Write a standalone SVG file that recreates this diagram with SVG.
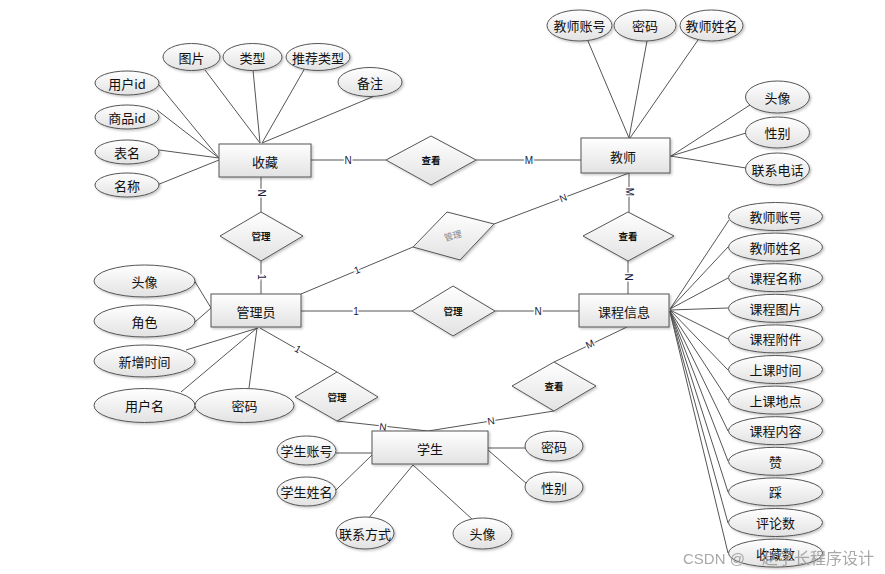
<svg xmlns="http://www.w3.org/2000/svg" width="885" height="574" viewBox="0 0 885 574">
<defs>
<linearGradient id="gr" x1="0" y1="0" x2="0" y2="1"><stop offset="0" stop-color="#ffffff"/><stop offset="1" stop-color="#e2e2e2"/></linearGradient>
<filter id="sh" x="-10%" y="-10%" width="130%" height="140%"><feDropShadow dx="1.5" dy="1.5" stdDeviation="1" flood-color="#000" flood-opacity="0.22"/></filter>
</defs>
<style>
.e{fill:url(#gr);stroke:#555;stroke-width:1;filter:url(#sh)}
.a{fill:url(#gr);stroke:#555;stroke-width:1;filter:url(#sh)}
.d{fill:url(#gr);stroke:#555;stroke-width:1;filter:url(#sh)}
.t{font-family:"Noto Sans CJK SC","Liberation Sans",sans-serif;font-size:13px;fill:#111;text-anchor:middle;dominant-baseline:central}
.dt{font-family:"Noto Sans CJK SC","Liberation Sans",sans-serif;font-size:9.5px;font-weight:bold;fill:#111;text-anchor:middle;dominant-baseline:central}
.c line,.c polyline{stroke:#555;stroke-width:1;fill:none}
.l{font-family:"Liberation Sans",sans-serif;font-size:10px;fill:#1a1a40;text-anchor:middle;dominant-baseline:central;stroke:#fff;stroke-width:3;paint-order:stroke}
.wm{font-family:"Liberation Sans","Noto Sans CJK SC",sans-serif;font-size:15px;fill:#999;opacity:0.85}
</style>
<rect width="885" height="574" fill="#fff"/>
<g id="connectors" class="c">
<!-- 收藏 attributes -->
<line x1="159" y1="85" x2="219" y2="158"/>
<line x1="157" y1="110" x2="219" y2="158"/>
<line x1="159" y1="150" x2="219" y2="158"/>
<line x1="157" y1="185" x2="219" y2="160"/>
<line x1="205" y1="70" x2="260" y2="143"/>
<line x1="253" y1="70" x2="260" y2="143"/>
<line x1="305" y1="68" x2="262" y2="143"/>
<line x1="377" y1="95" x2="262" y2="143"/>
<!-- 教师 attributes -->
<line x1="588" y1="41" x2="629" y2="138"/>
<line x1="647" y1="41" x2="629" y2="138"/>
<line x1="698" y1="40" x2="630" y2="138"/>
<line x1="750" y1="105" x2="671" y2="156"/>
<line x1="746" y1="133" x2="671" y2="156"/>
<line x1="746" y1="168" x2="670" y2="156"/>
<!-- 管理员 attributes -->
<line x1="194" y1="280" x2="211" y2="308"/>
<line x1="195" y1="322" x2="211" y2="308"/>
<line x1="186" y1="350" x2="258" y2="328"/>
<line x1="181" y1="392" x2="257" y2="328"/>
<line x1="249" y1="388" x2="257" y2="328"/>
<!-- 学生 attributes -->
<line x1="336" y1="453" x2="372" y2="453"/>
<line x1="336" y1="490" x2="372" y2="455"/>
<line x1="368" y1="519" x2="413" y2="465"/>
<line x1="473" y1="520" x2="413" y2="465"/>
<line x1="488" y1="448" x2="525" y2="448"/>
<line x1="488" y1="450" x2="527" y2="484"/>
<!-- 课程信息 attributes -->
<line x1="670" y1="309" x2="729" y2="220"/>
<line x1="670" y1="309" x2="728" y2="247"/>
<line x1="670" y1="309" x2="728" y2="278"/>
<line x1="670" y1="310" x2="728" y2="308"/>
<line x1="670" y1="310" x2="728" y2="339"/>
<line x1="670" y1="310" x2="728" y2="370"/>
<line x1="670" y1="311" x2="728" y2="400"/>
<line x1="670" y1="311" x2="728" y2="431"/>
<line x1="670" y1="311" x2="728" y2="461"/>
<line x1="670" y1="311" x2="728" y2="492"/>
<line x1="670" y1="312" x2="728" y2="523"/>
<line x1="670" y1="312" x2="728" y2="553"/>
<!-- relationships -->
<line x1="311" y1="160" x2="386" y2="160"/>
<line x1="476" y1="160" x2="581" y2="160"/>
<line x1="261" y1="177" x2="261" y2="212"/>
<line x1="261" y1="261" x2="261" y2="294"/>
<line x1="301" y1="294" x2="413" y2="247"/>
<line x1="494" y1="224" x2="629" y2="173"/>
<line x1="629" y1="173" x2="629" y2="212"/>
<line x1="628" y1="261" x2="628" y2="294"/>
<line x1="301" y1="311" x2="412" y2="311"/>
<line x1="495" y1="311" x2="579" y2="311"/>
<line x1="260" y1="328" x2="337" y2="372"/>
<polyline points="337,421 428,431 554,411"/>
<line x1="554" y1="362" x2="627" y2="327"/>
<!-- cardinality labels -->
<text class="l" x="348" y="160">N</text>
<text class="l" x="529" y="160">M</text>
<text class="l" transform="translate(261,193) rotate(90)">N</text>
<text class="l" transform="translate(261,277) rotate(90)">1</text>
<text class="l" transform="translate(357,270) rotate(-23)">1</text>
<text class="l" transform="translate(563,198) rotate(-21)">N</text>
<text class="l" transform="translate(629,192) rotate(90)">M</text>
<text class="l" transform="translate(628,277) rotate(90)">N</text>
<text class="l" x="356" y="311">1</text>
<text class="l" x="538" y="311">N</text>
<text class="l" transform="translate(298,349) rotate(30)">1</text>
<text class="l" transform="translate(383,427) rotate(6)">N</text>
<text class="l" transform="translate(491,421) rotate(-9)">N</text>
<text class="l" transform="translate(590,344) rotate(-26)">M</text>
</g>
<!-- entities -->
<g id="shoucang"><rect class="e" x="219" y="144" width="92" height="33"/><text class="t" x="265" y="161">收藏</text></g>
<g id="jiaoshi"><rect class="e" x="581" y="138" width="89" height="35"/><text class="t" x="623" y="156">教师</text></g>
<g id="guanliyuan"><rect class="e" x="211" y="294" width="90" height="33"/><text class="t" x="256" y="311">管理员</text></g>
<g id="kecheng"><rect class="e" x="579" y="294" width="90" height="33"/><text class="t" x="624" y="311">课程信息</text></g>
<g id="xuesheng"><rect class="e" x="372" y="431" width="116" height="33"/><text class="t" x="430" y="448">学生</text></g>
<!-- relationships -->
<g id="r-chakan1"><polygon class="d" points="386,160 431,136 476,160 431,185"/><text class="dt" x="431" y="160">查看</text></g>
<g id="r-guanli1"><polygon class="d" points="220,236 261,212 303,236 261,261"/><text class="dt" x="261" y="236">管理</text></g>
<g id="r-guanli2"><polygon class="d" points="413,247 447,212 494,224 460,260"/><text transform="translate(453,236) rotate(-16)" style="font-family:'Liberation Serif','Noto Sans CJK SC',serif;font-size:9px;fill:#888;text-anchor:middle;dominant-baseline:central">管理</text></g>
<g id="r-chakan2"><polygon class="d" points="583,236 628,212 674,236 628,261"/><text class="dt" x="628" y="236">查看</text></g>
<g id="r-guanli3"><polygon class="d" points="412,311 453,286 495,311 453,336"/><text class="dt" x="453" y="311">管理</text></g>
<g id="r-guanli4"><polygon class="d" points="295,397 337,372 378,397 337,421"/><text class="dt" x="337" y="397">管理</text></g>
<g id="r-chakan3"><polygon class="d" points="512,386 554,362 596,386 554,411"/><text class="dt" x="554" y="386">查看</text></g>
<!-- 收藏 attributes -->
<g id="sc-yhid"><ellipse class="a" cx="127" cy="83" rx="32" ry="12"/><text class="t" x="127" y="83">用户id</text></g>
<g id="sc-spid"><ellipse class="a" cx="127" cy="117" rx="32" ry="12"/><text class="t" x="127" y="117">商品id</text></g>
<g id="sc-bm"><ellipse class="a" cx="127" cy="152" rx="32" ry="12"/><text class="t" x="127" y="152">表名</text></g>
<g id="sc-mc"><ellipse class="a" cx="127" cy="185" rx="32" ry="12"/><text class="t" x="127" y="185">名称</text></g>
<g id="sc-tp"><ellipse class="a" cx="191.5" cy="57" rx="28.5" ry="13.5"/><text class="t" x="191.5" y="57">图片</text></g>
<g id="sc-lx"><ellipse class="a" cx="252.5" cy="57" rx="29.5" ry="13.5"/><text class="t" x="252.5" y="57">类型</text></g>
<g id="sc-tjlx"><ellipse class="a" cx="318" cy="57" rx="32" ry="13.5"/><text class="t" x="318" y="57">推荐类型</text></g>
<g id="sc-bz"><ellipse class="a" cx="370" cy="82" rx="32" ry="14.5"/><text class="t" x="370" y="82">备注</text></g>
<!-- 教师 attributes -->
<g id="js-zh"><ellipse class="a" cx="579.5" cy="25.5" rx="32.5" ry="15.5"/><text class="t" x="579.5" y="25.5">教师账号</text></g>
<g id="js-mm"><ellipse class="a" cx="645" cy="25.5" rx="31" ry="15.5"/><text class="t" x="645" y="25.5">密码</text></g>
<g id="js-xm"><ellipse class="a" cx="711.5" cy="25.5" rx="31.5" ry="15.5"/><text class="t" x="711.5" y="25.5">教师姓名</text></g>
<g id="js-tx"><ellipse class="a" cx="777.5" cy="97" rx="32" ry="16"/><text class="t" x="777.5" y="97">头像</text></g>
<g id="js-xb"><ellipse class="a" cx="777.5" cy="132.5" rx="32" ry="15.5"/><text class="t" x="777.5" y="132.5">性别</text></g>
<g id="js-dh"><ellipse class="a" cx="777.5" cy="169" rx="32" ry="16"/><text class="t" x="777.5" y="169">联系电话</text></g>
<!-- 管理员 attributes -->
<g id="gl-tx"><ellipse class="a" cx="144.5" cy="281" rx="50.5" ry="16"/><text class="t" x="144.5" y="281">头像</text></g>
<g id="gl-js"><ellipse class="a" cx="144.5" cy="321" rx="50.5" ry="16"/><text class="t" x="144.5" y="321">角色</text></g>
<g id="gl-xzsj"><ellipse class="a" cx="144.5" cy="361" rx="50.5" ry="16"/><text class="t" x="144.5" y="361">新增时间</text></g>
<g id="gl-yhm"><ellipse class="a" cx="144.5" cy="405.5" rx="50.5" ry="17"/><text class="t" x="144.5" y="405.5">用户名</text></g>
<g id="gl-mm"><ellipse class="a" cx="244.5" cy="405.5" rx="49.5" ry="17"/><text class="t" x="244.5" y="405.5">密码</text></g>
<!-- 学生 attributes -->
<g id="xs-zh"><ellipse class="a" cx="306.5" cy="450.5" rx="29.5" ry="14.5"/><text class="t" x="306.5" y="450.5">学生账号</text></g>
<g id="xs-xm"><ellipse class="a" cx="306.5" cy="491.5" rx="29.5" ry="14.5"/><text class="t" x="306.5" y="491.5">学生姓名</text></g>
<g id="xs-lxfs"><ellipse class="a" cx="365" cy="533" rx="29" ry="16"/><text class="t" x="365" y="533">联系方式</text></g>
<g id="xs-tx"><ellipse class="a" cx="482.5" cy="533.5" rx="29.5" ry="15.5"/><text class="t" x="482.5" y="533.5">头像</text></g>
<g id="xs-mm"><ellipse class="a" cx="554" cy="446" rx="29" ry="15"/><text class="t" x="554" y="446">密码</text></g>
<g id="xs-xb"><ellipse class="a" cx="554" cy="487" rx="29" ry="15"/><text class="t" x="554" y="487">性别</text></g>
<!-- 课程信息 attributes -->
<g id="kc-jszh"><ellipse class="a" cx="775.5" cy="216.5" rx="47" ry="14"/><text class="t" x="775.5" y="216.5">教师账号</text></g>
<g id="kc-jsxm"><ellipse class="a" cx="775.5" cy="247.1" rx="47" ry="14"/><text class="t" x="775.5" y="247.1">教师姓名</text></g>
<g id="kc-kcmc"><ellipse class="a" cx="775.5" cy="277.7" rx="47" ry="14"/><text class="t" x="775.5" y="277.7">课程名称</text></g>
<g id="kc-kctp"><ellipse class="a" cx="775.5" cy="308.3" rx="47" ry="14"/><text class="t" x="775.5" y="308.3">课程图片</text></g>
<g id="kc-kcfj"><ellipse class="a" cx="775.5" cy="338.9" rx="47" ry="14"/><text class="t" x="775.5" y="338.9">课程附件</text></g>
<g id="kc-sksj"><ellipse class="a" cx="775.5" cy="369.5" rx="47" ry="14"/><text class="t" x="775.5" y="369.5">上课时间</text></g>
<g id="kc-skdd"><ellipse class="a" cx="775.5" cy="400.1" rx="47" ry="14"/><text class="t" x="775.5" y="400.1">上课地点</text></g>
<g id="kc-kcnr"><ellipse class="a" cx="775.5" cy="430.7" rx="47" ry="14"/><text class="t" x="775.5" y="430.7">课程内容</text></g>
<g id="kc-zan"><ellipse class="a" cx="775.5" cy="461.3" rx="47" ry="14"/><text class="t" x="775.5" y="461.3">赞</text></g>
<g id="kc-cai"><ellipse class="a" cx="775.5" cy="491.9" rx="47" ry="14"/><text class="t" x="775.5" y="491.9">踩</text></g>
<g id="kc-pls"><ellipse class="a" cx="775.5" cy="522.5" rx="47" ry="14"/><text class="t" x="775.5" y="522.5">评论数</text></g>
<g id="kc-scs"><ellipse class="a" cx="775.5" cy="553.1" rx="47" ry="14"/><text class="t" x="775.5" y="553.1">收藏数</text></g>
<text class="wm" x="683" y="564">CSDN @ <tspan x="762" font-size="16">赵学长程序设计</tspan></text>
</svg>
